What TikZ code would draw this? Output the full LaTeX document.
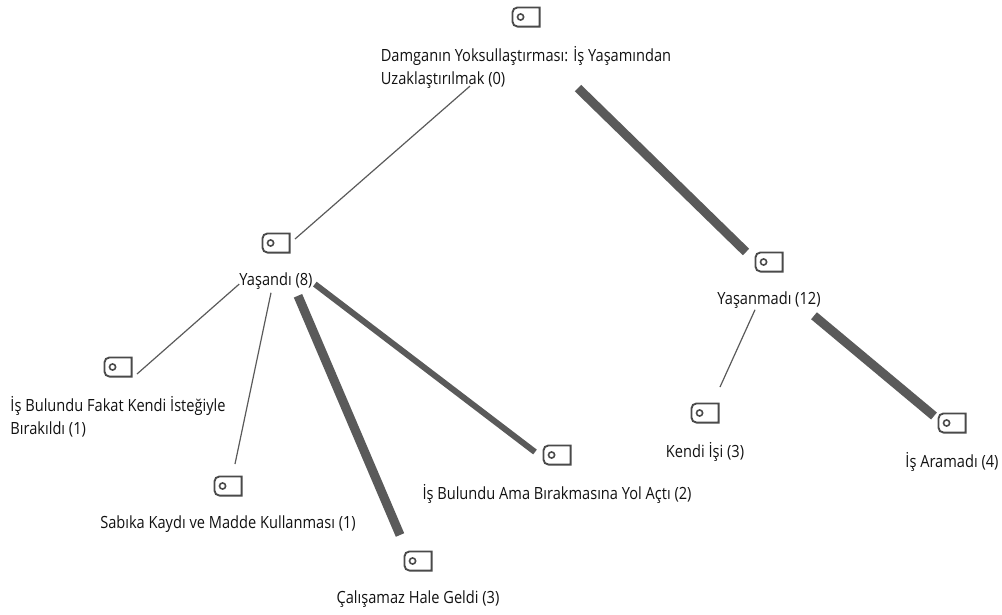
\documentclass[tikz,border=0pt]{standalone}
\usepackage{fontspec}
\setmainfont[FakeStretch=0.87]{Open Sans}
\usetikzlibrary{positioning}
\definecolor{tagline}{HTML}{4A4A4A}
\definecolor{wline}{HTML}{5A5A5A}
\definecolor{ltext}{HTML}{111111}

\begin{document}
\begin{tikzpicture}[x=0.75pt,y=-0.75pt,node distance=14pt,
  tag/.style={minimum width=21.75pt,minimum height=15.75pt,inner sep=0pt,
    path picture={
      \draw[tagline,line width=1.4pt]
        ([shift={(-0.7pt,-0.7pt)}]path picture bounding box.north east)
        -- ([shift={(4.5pt,-0.7pt)}]path picture bounding box.north west)
        arc[start angle=90,end angle=180,radius=3.8pt]
        -- ([shift={(0.7pt,4.5pt)}]path picture bounding box.south west)
        arc[start angle=180,end angle=270,radius=3.8pt]
        -- ([shift={(-0.7pt,0.7pt)}]path picture bounding box.south east) -- cycle;
      \draw[tagline,line width=1.2pt]
        ([xshift=6.8pt]path picture bounding box.west) circle[radius=2.3pt];
    }},
  lbl/.style={inner sep=0pt,align=left,text=ltext,font=\fontsize{12.6}{17.25}\selectfont},
  w1/.style={draw=wline,line width=0.9pt},
  w6/.style={draw=wline,line width=4.5pt},
  w9/.style={draw=wline,line width=6.8pt}]
\useasboundingbox (0,0) rectangle (1002,614);

  \node[tag] (T0) at (526,17)  {};
  \node[tag] (T1) at (276,243) {};
  \node[tag] (T2) at (769,262) {};
  \node[tag] (T3) at (118,367) {};
  \node[tag] (T4) at (228,486) {};
  \node[tag] (T5) at (418,561) {};
  \node[tag] (T6) at (557,455) {};
  \node[tag] (T7) at (705,413) {};
  \node[tag] (T8) at (952,423) {};

  \node[lbl, below=of T0] (L0) {Damganın Yoksullaştırması: İş Yaşamından\\Uzaklaştırılmak (0)};
  \node[lbl, below=of T1] (L1) {Yaşandı (8)};
  \node[lbl, below=of T2] (L2) {Yaşanmadı (12)};
  \node[lbl, below=of T3] (L3) {İş Bulundu Fakat Kendi İsteğiyle\\Bırakıldı (1)};
  \node[lbl, below=of T4] (L4) {Sabıka Kaydı ve Madde Kullanması (1)};
  \node[lbl, below=of T5] (L5) {Çalışamaz Hale Geldi (3)};
  \node[lbl, below=of T6] (L6) {İş Bulundu Ama Bırakmasına Yol Açtı (2)};
  \node[lbl, below=of T7] (L7) {Kendi İşi (3)};
  \node[lbl, below=of T8] (L8) {İş Aramadı (4)};

  \path[w1]
    ([shift={(-56,-3)}]L0.south) edge ([shift={(19,-4)}]T1.center)
    ([shift={(0,3)}]L1.west)     edge ([shift={(19,7)}]T3.center)
    ([shift={(-5,3)}]L1.south)   edge ([shift={(7,-22)}]T4.center)
    ([shift={(-14,1)}]L2.south)  edge ([shift={(15,-26)}]T7.center);

  \path[w6]
    ([shift={(2,3)}]L1.east)     edge ([shift={(-22,-3)}]T6.center);

  \path[w9]
    ([shift={(52,-1)}]L0.south)  edge ([shift={(-23,-10)}]T2.center)
    ([shift={(22,6)}]L1.south)   edge ([shift={(-18,-26)}]T5.center)
    ([shift={(45,7)}]L2.south)   edge ([shift={(-18,-7)}]T8.center);
\end{tikzpicture}
\end{document}
